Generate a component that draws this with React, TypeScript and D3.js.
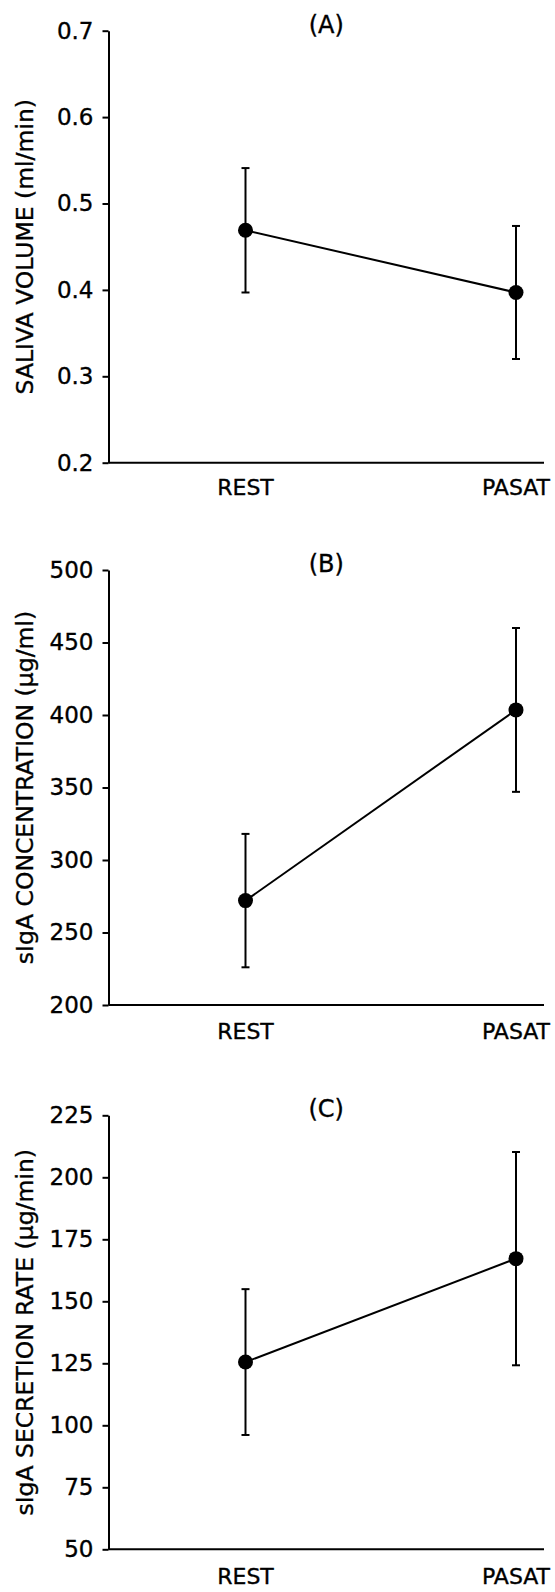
import React, { useEffect, useRef } from "react";
import * as d3 from "d3";

// categories on the x axis
const conditions = ["REST", "PASAT"];

// (A) saliva volume, ml/min
const volumeMean = [0.469, 0.397];
const volumeErr = [0.072, 0.077];
const volumeTicks = [0.2, 0.3, 0.4, 0.5, 0.6, 0.7];

// (B) sIgA concentration, ug/ml
const concMean = [272, 403.5];
const concErr = [46, 56.5];
const concTicks = [200, 250, 300, 350, 400, 450, 500];

// (C) sIgA secretion rate, ug/min
const rateMean = [125.5, 167.2];
const rateErr = [29.4, 43];
const rateTicks = [50, 75, 100, 125, 150, 175, 200, 225];

const panels = [
  { tag: "(A)", label: "SALIVA VOLUME (ml/min)", mean: volumeMean, err: volumeErr, ticks: volumeTicks, fmt: ".1f", top: 30.7, bottom: 462.7, xOff: 32 },
  { tag: "(B)", label: "sIgA CONCENTRATION (μg/ml)", mean: concMean, err: concErr, ticks: concTicks, fmt: "d", top: 570, bottom: 1005, xOff: 34 },
  { tag: "(C)", label: "sIgA SECRETION RATE (μg/min)", mean: rateMean, err: rateErr, ticks: rateTicks, fmt: "d", top: 1115.3, bottom: 1549.3, xOff: 35 },
];

const W = 555;
const H = 1592;
const axisX = 108.5;
const axisRight = 544;
const FONT = "DejaVu Sans, Verdana, sans-serif";

// slightly heavier text, the scan looks inked
const ink = (sel: any) => sel.attr("fill", "#000").attr("stroke", "#000").attr("stroke-width", 0.35);

export default function App() {
  const ref = useRef<SVGSVGElement>(null);

  useEffect(() => {
    const svg = d3.select(ref.current);
    svg.selectAll("*").remove();

    const x = d3.scalePoint<string>().domain(conditions).range([245.5, 516]);

    panels.forEach((p) => {
      const y = d3
        .scaleLinear()
        .domain([p.ticks[0], p.ticks[p.ticks.length - 1]])
        .range([p.bottom, p.top]);

      const g = svg.append("g");

      // y axis
      const yAxis = d3
        .axisLeft(y)
        .tickValues(p.ticks)
        .tickSize(6)
        .tickSizeOuter(0)
        .tickPadding(9)
        .tickFormat(d3.format(p.fmt) as any);
      const gY = g.append("g").attr("transform", `translate(${axisX},0)`).call(yAxis);
      gY.selectAll("path, line").attr("stroke", "#000").attr("stroke-width", 2);
      gY.selectAll("text")
        .attr("font-family", FONT)
        .attr("font-size", 23)
        .call(ink);
      gY.attr("font-family", null).attr("font-size", null);

      // x axis line
      g.append("line")
        .attr("x1", axisX)
        .attr("x2", axisRight)
        .attr("y1", p.bottom)
        .attr("y2", p.bottom)
        .attr("stroke", "#000")
        .attr("stroke-width", 2);

      // category labels
      g.selectAll(".cat")
        .data(conditions)
        .enter()
        .append("text")
        .attr("x", (d) => x(d)!)
        .attr("y", p.bottom + p.xOff)
        .attr("text-anchor", "middle")
        .attr("font-family", FONT)
        .attr("font-size", 22)
        .call(ink)
        .text((d) => d);

      // panel tag
      g.append("text")
        .attr("x", (axisX + axisRight) / 2)
        .attr("y", p.top + 2)
        .attr("text-anchor", "middle")
        .attr("font-family", FONT)
        .attr("font-size", 24)
        .call(ink)
        .text(p.tag);

      // y title
      g.append("text")
        .attr("transform", `translate(33,${(p.top + p.bottom) / 2}) rotate(-90)`)
        .attr("text-anchor", "middle")
        .attr("font-family", FONT)
        .attr("font-size", 23.5)
        .call(ink)
        .text(p.label);

      const pts = conditions.map((c, i) => ({ c, m: p.mean[i], e: p.err[i] }));

      // error bars
      const eb = g.selectAll(".eb").data(pts).enter().append("g");
      eb.append("line")
        .attr("x1", (d) => x(d.c)!)
        .attr("x2", (d) => x(d.c)!)
        .attr("y1", (d) => y(d.m + d.e))
        .attr("y2", (d) => y(d.m - d.e))
        .attr("stroke", "#000")
        .attr("stroke-width", 2);
      [1, -1].forEach((s) => {
        eb.append("line")
          .attr("x1", (d) => x(d.c)! - 4)
          .attr("x2", (d) => x(d.c)! + 4)
          .attr("y1", (d) => y(d.m + s * d.e))
          .attr("y2", (d) => y(d.m + s * d.e))
          .attr("stroke", "#000")
          .attr("stroke-width", 2);
      });

      // connecting line
      const line = d3
        .line<{ c: string; m: number }>()
        .x((d) => x(d.c)!)
        .y((d) => y(d.m));
      g.append("path")
        .datum(pts)
        .attr("d", line)
        .attr("fill", "none")
        .attr("stroke", "#000")
        .attr("stroke-width", 2);

      // markers
      g.selectAll(".dot")
        .data(pts)
        .enter()
        .append("circle")
        .attr("cx", (d) => x(d.c)!)
        .attr("cy", (d) => y(d.m))
        .attr("r", 7.5)
        .attr("fill", "#000");
    });
  }, []);

  return (
    <div style={{ position: "absolute", left: 0, top: 0 }}>
      <svg ref={ref} width={W} height={H} style={{ display: "block", background: "#fff" }} />
    </div>
  );
}
